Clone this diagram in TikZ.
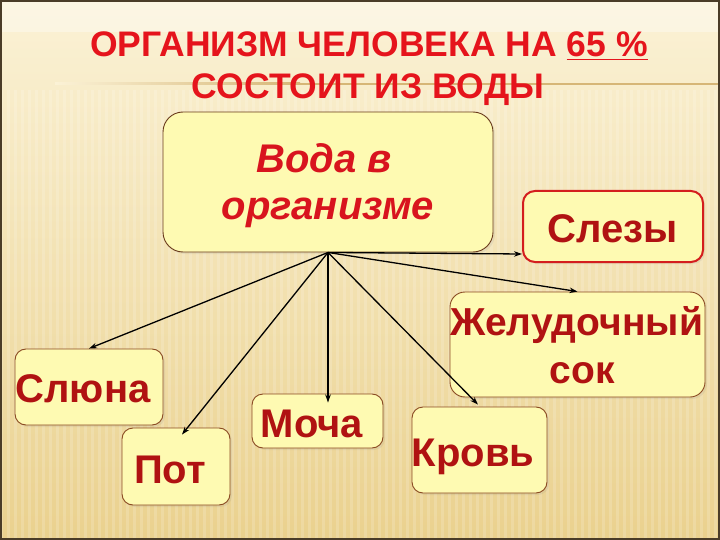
\documentclass[tikz,border=0pt]{standalone}
\usepackage{fontspec}
\setmainfont{Liberation Sans}
\usetikzlibrary{arrows.meta,calc,shadows}
\definecolor{bgtop}{HTML}{FBF2D6}
\definecolor{bgbot}{HTML}{EAD18E}
\definecolor{frame}{HTML}{4A3C28}
\definecolor{rule}{HTML}{D6B676}
\definecolor{titlered}{HTML}{E5141C}
\definecolor{itred}{HTML}{D8141E}
\definecolor{boxred}{HTML}{B01212}
\definecolor{boxfill}{HTML}{FEFAB2}
\definecolor{boxline}{HTML}{8A4A22}
\definecolor{mainline}{HTML}{6A3A1C}
\definecolor{slezline}{HTML}{D41E1E}
\tikzset{
  box/.style={draw=boxline, fill=boxfill, line width=0.9pt, rounded corners=11pt, inner sep=0pt,
    drop shadow={opacity=0.12, shadow xshift=2pt, shadow yshift=-2pt}},
  lbl/.style={anchor=base, text=boxred, font=\fontsize{40}{40}\selectfont\bfseries, inner sep=0pt},
  itlbl/.style={anchor=base, text=itred, font=\fontsize{40}{40}\selectfont\bfseries\itshape, inner sep=0pt},
  ttl/.style={anchor=base, text=titlered, font=\fontsize{35.5}{36}\selectfont\bfseries, inner sep=0pt},
  arr/.style={-{Stealth[length=8pt,width=5.5pt]}, line width=1.3pt, black}
}
\begin{document}
\begin{tikzpicture}[x=1pt,y=-1pt]
\useasboundingbox (0,0) rectangle (720,540);
% background
\shade[top color=bgtop, bottom color=bgbot] (0,0) rectangle (720,540);
\fill[white, opacity=0.35] (0,0) rectangle (720,32);
\foreach \i in {0,7,...,720} {
  \fill[white, opacity=0.16] (\i,90) rectangle ++(3,450);
}
\shade[left color=bgtop, right color=rule] (55,83) rectangle (300,85);
\fill[rule] (300,83) rectangle (720,85);
\draw[frame, line width=2pt] (1,1) rectangle (719,539);
% title
\node[ttl] (t1) at (369,57) {ОРГАНИЗМ ЧЕЛОВЕКА НА \underline{65 \%}};
\node[ttl] (t2) at (368,99) {СОСТОИТ ИЗ ВОДЫ};
% boxes
\node[box, draw=mainline, rounded corners=20pt, minimum width=330pt, minimum height=140pt] (main) at (328,182) {};
\node[box, draw=slezline, line width=2pt, rounded corners=12pt, minimum width=180pt, minimum height=71pt] (slezy) at (613,226.5) {};
\node[box, rounded corners=15pt, minimum width=255pt, minimum height=105pt] (zhel) at (577.5,344.5) {};
\node[box, minimum width=148pt, minimum height=76pt] (slyuna) at (89,387) {};
\node[box, minimum width=108pt, minimum height=77pt] (pot) at (176,466.5) {};
\node[box, minimum width=131pt, minimum height=54pt] (mocha) at (317.5,421) {};
\node[box, minimum width=135pt, minimum height=86pt] (krov) at (479.5,450) {};
% texts
\node[itlbl] (mainA) at (324,173) {Вода в};
\node[itlbl] (mainB) at (328,220) {организме};
\node[lbl] (slezyT) at (612.5,242) {Слезы};
\node[lbl, font=\fontsize{39}{39}\selectfont\bfseries] (zhelA) at (576.5,335) {Желудочный};
\node[lbl, font=\fontsize{39}{39}\selectfont\bfseries] (zhelB) at (582,383) {сок};
\node[lbl] (slyunaT) at (83,402) {Слюна};
\node[lbl] (potT) at (170,483) {Пот};
\node[lbl] (mochaT) at (312,437) {Моча};
\node[lbl] (krovT) at (473,466) {Кровь};
% arrow ends
\coordinate (eSlezy) at ($(slezy.south west)+(0,-9)$);
\coordinate (ePot) at ($(pot.north)+(6,7)$);
\coordinate (eMocha) at ($(mocha.north)+(10.5,9)$);
\coordinate (eKrov) at ($(krov.north)+(-1.5,-2)$);
% arrows
\draw[arr] (main.south) -- (eSlezy);
\draw[arr] (main.south) -- (zhel.north);
\draw[arr] (main.south) -- (slyuna.north);
\draw[arr] (main.south) -- (ePot);
\draw[arr] (main.south) -- (eMocha);
\draw[arr] (main.south) -- (eKrov);
\end{tikzpicture}
\end{document}
